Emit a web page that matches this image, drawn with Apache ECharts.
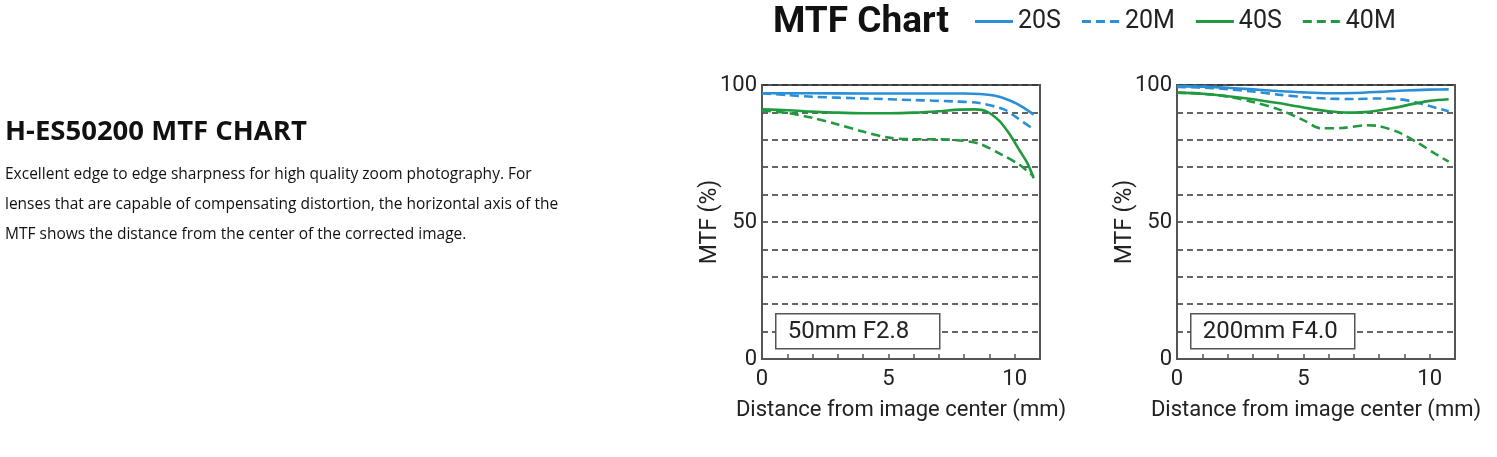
<!DOCTYPE html>
<html>
<head>
<meta charset="utf-8">
<script src="https://cdn.jsdelivr.net/npm/echarts@6/dist/echarts.min.js"></script>
<style>
  html, body { margin: 0; padding: 0; background: #fff; }
  #main { position: absolute; left: 0; top: 0; width: 1497px; height: 457px; }
  #intro { position: absolute; left: 5px; top: 112px; z-index: 2; color: #111; font-family: 'Open Sans', sans-serif; }
  #intro h2 { margin: 0; font-size: 27.5px; font-weight: 700; line-height: 36px; color: #111; }
  #intro p { margin: 10px 0 0 0; font-size: 15.5px; line-height: 30px; }
</style>
</head>
<body>
<div id="main"></div>
<div id="intro">
  <h2>H-ES50200 MTF CHART</h2>
  <p>Excellent edge to edge sharpness for high quality zoom photography. For<br>lenses that are capable of compensating distortion, the horizontal axis of the<br>MTF shows the distance from the center of the corrected image.</p>
</div>
<script>
var chartDom = document.getElementById('main');
var myChart = echarts.init(chartDom);
var option;

// 图例名称
var seriesNames = ['20S', '20M', '40S', '40M'];
var lensLabels = ['50mm F2.8', '200mm F4.0'];

// 50mm F2.8  [距离mm, MTF%]
var wide20S = [[0, 97.0], [2, 97.0], [4, 96.9], [6, 96.9], [8, 96.9], [8.6, 96.7], [9.3, 95.9], [9.9, 94.0], [10.3, 92.0], [10.75, 89.2]];
var wide20M = [[0, 97.0], [1, 96.3], [2, 95.7], [4, 95.1], [6, 94.5], [7.6, 94.0], [8.6, 93.4], [9.6, 91.0], [10.1, 88.0], [10.75, 83.8]];
var wide40S = [[0, 91.1], [1, 90.8], [2, 90.3], [3, 89.9], [4, 89.7], [5, 89.7], [6, 89.9], [7, 90.4], [7.8, 91.0], [8.4, 91.1], [8.9, 90.3], [9.4, 86.8], [9.8, 82.0], [10.2, 76.0], [10.5, 71.5], [10.75, 66.0]];
var wide40M = [[0, 90.7], [1, 89.8], [2, 88.0], [3, 85.6], [4, 83.0], [5, 80.8], [6, 80.2], [7, 80.2], [7.8, 79.8], [8.6, 78.6], [9.5, 74.5], [10.2, 70.8], [10.75, 66.6]];

// 200mm F4.0
var tele20S = [[0, 99.6], [1, 99.4], [2, 99.0], [3, 98.4], [4, 97.8], [5, 97.3], [6, 97.0], [7, 97.1], [8, 97.5], [9, 98.0], [10, 98.3], [10.75, 98.4]];
var tele20M = [[0, 99.3], [1.5, 98.8], [3, 97.6], [4, 96.5], [5, 95.6], [6, 95.0], [7, 94.9], [8, 95.1], [8.8, 94.8], [9.4, 93.8], [10, 92.3], [10.75, 90.4]];
var tele40S = [[0, 97.2], [1, 96.8], [2, 95.9], [3, 94.8], [4, 93.4], [5, 91.8], [6, 90.4], [6.8, 89.9], [7.6, 90.2], [8.5, 91.5], [9.4, 93.2], [10, 94.2], [10.75, 94.8]];
var tele40M = [[0, 97.2], [1, 96.8], [2, 95.8], [3, 93.8], [4, 91.2], [5, 87.2], [5.7, 84.2], [6.5, 84.3], [7.5, 85.3], [8, 85.0], [8.8, 82.6], [9.6, 78.5], [10.2, 75.0], [10.75, 72.0]];

var blue = '#2a8fd7';
var green = '#1f9a3f';
// 图例图标：实线 / 虚线
var solidIcon = 'path://M0,0H38V3H0Z';
var dashIcon = 'path://M0,0H9V3H0Z M14,0H23V3H14Z M28,0H37V3H28Z M37.9,0H38V3H37.9Z';

function mkSeries(name, data, idx, color, dashed) {
    return {
        name: name,
        type: 'line',
        xAxisIndex: idx,
        yAxisIndex: idx,
        data: data,
        symbol: 'none',
        showSymbol: false,
        smooth: 0.3,
        color: color,
        lineStyle: { color: color, width: 2.6, type: dashed ? [9, 5] : 'solid' },
        z: 5
    };
}

function mkX(gi) {
    return {
        type: 'value', gridIndex: gi, min: 0, max: 11, interval: 1,
        name: 'Distance from image center (mm)', nameLocation: 'middle', nameGap: 40,
        nameTextStyle: { fontFamily: 'Roboto', fontSize: 22, color: '#222' },
        axisLine: { show: true, lineStyle: { color: '#555', width: 2 } },
        axisTick: { show: true, inside: true, length: 5, lineStyle: { color: '#555', width: 1.5 } },
        axisLabel: { margin: 9, fontFamily: 'Roboto', fontSize: 22, color: '#222',
            formatter: v => (v % 5 === 0 ? String(v) : '') },
        splitLine: { show: false }
    };
}

function mkY(gi) {
    return {
        type: 'value', gridIndex: gi, min: 0, max: 100, interval: 10,
        name: 'MTF (%)', nameLocation: 'middle', nameGap: 40, nameMoveOverlap: false,
        nameTextStyle: { fontFamily: 'Roboto', fontSize: 23, color: '#222' },
        axisLine: { show: true, lineStyle: { color: '#555', width: 2 } },
        axisTick: { show: false },
        axisLabel: { margin: 5, fontFamily: 'Roboto', fontSize: 22, color: '#222',
            formatter: v => (v % 50 === 0 ? String(v) : '') },
        splitLine: { show: true, lineStyle: { color: '#333', width: 1.5, type: [6, 4] } }
    };
}

function mkBox(left, text) {
    return {
        type: 'group', left: left, top: 313, z: 100,
        children: [
            { type: 'rect', z: 100, shape: { x: 0, y: 0, width: 164, height: 35 },
              style: { fill: '#fff', stroke: '#555', lineWidth: 1.5 } },
            { type: 'text', z: 101, x: 12, y: 18,
              style: { text: text, fontFamily: 'Roboto', fontSize: 24, fill: '#222', verticalAlign: 'middle' } }
        ]
    };
}

option = {
    animation: false,
    title: {
        text: 'MTF Chart', left: 773, top: 4, padding: 0,
        textStyle: { fontFamily: 'Roboto', fontWeight: 'bold', fontSize: 37, color: '#111' }
    },
    legend: {
        data: [
            { name: seriesNames[0], icon: solidIcon },
            { name: seriesNames[1], icon: dashIcon },
            { name: seriesNames[2], icon: solidIcon },
            { name: seriesNames[3], icon: dashIcon }
        ],
        left: 975, top: 9, padding: 0,
        itemWidth: 38, itemHeight: 3, itemGap: 21,
        textStyle: { fontFamily: 'Roboto', fontSize: 25, color: '#222' }
    },
    grid: [
        { left: 762, top: 85, width: 278, height: 274, show: true, borderColor: '#555', borderWidth: 2 },
        { left: 1177, top: 85, width: 278, height: 274, show: true, borderColor: '#555', borderWidth: 2 }
    ],
    xAxis: [mkX(0), mkX(1)],
    yAxis: [mkY(0), mkY(1)],
    graphic: [mkBox(775, lensLabels[0]), mkBox(1190, lensLabels[1])],
    series: [
        mkSeries('20S', wide20S, 0, blue, false),
        mkSeries('20M', wide20M, 0, blue, true),
        mkSeries('40S', wide40S, 0, green, false),
        mkSeries('40M', wide40M, 0, green, true),
        mkSeries('20S', tele20S, 1, blue, false),
        mkSeries('20M', tele20M, 1, blue, true),
        mkSeries('40S', tele40S, 1, green, false),
        mkSeries('40M', tele40M, 1, green, true)
    ]
};

option && myChart.setOption(option);
</script>
</body>
</html>
